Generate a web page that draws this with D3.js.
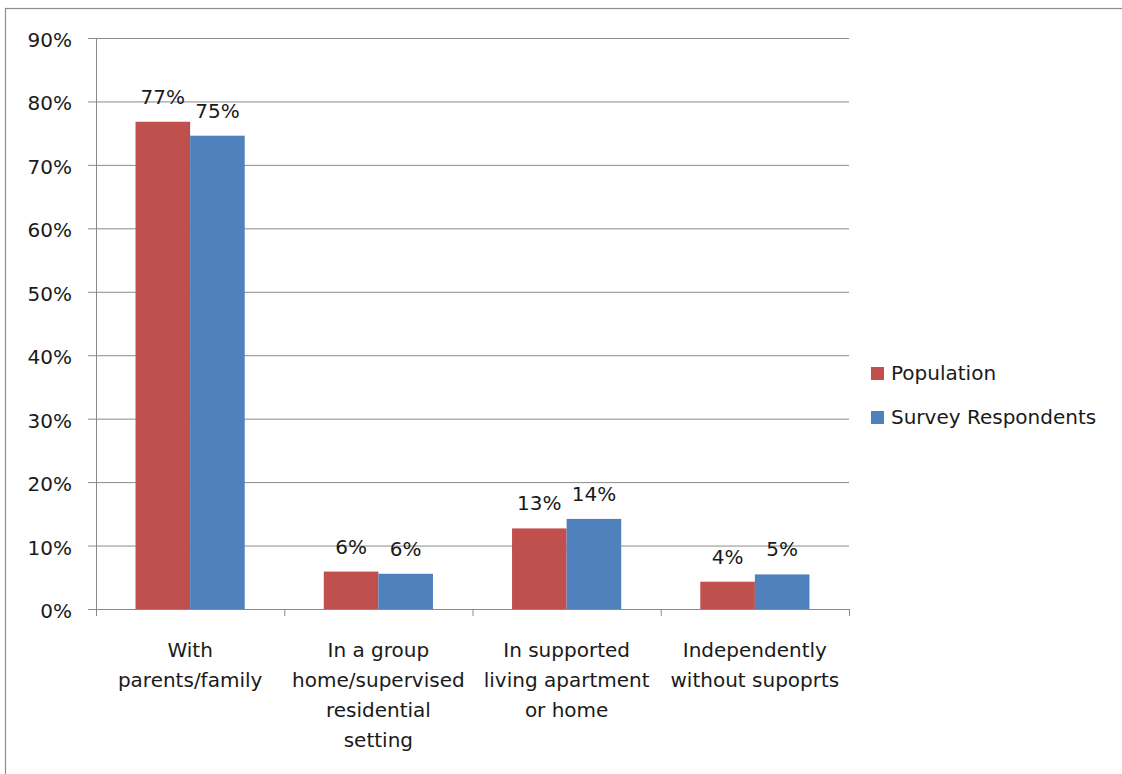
<!DOCTYPE html>
<html>
<head>
<meta charset="utf-8">
<script src="https://cdn.jsdelivr.net/npm/d3@7"></script>
<style>
  html, body { margin: 0; padding: 0; background: #fff; }
  svg { display: block; }
  svg text { font-family: "DejaVu Sans", Verdana, sans-serif; fill: #1a1a1a; }
</style>
</head>
<body>
<svg id="chart" width="1122" height="774"></svg>
<script>
// Living arrangements: population vs. survey respondents
const categories = [
  ["With", "parents/family"],
  ["In a group", "home/supervised", "residential", "setting"],
  ["In supported", "living apartment", "or home"],
  ["Independently", "without supoprts"]
];
const seriesNames = ["Population", "Survey Respondents"];
const population = [0.768, 0.059, 0.127, 0.043];
const respondents = [0.746, 0.0555, 0.142, 0.0545];
const yTicks = [0, 0.1, 0.2, 0.3, 0.4, 0.5, 0.6, 0.7, 0.8, 0.9];
const colors = ["#C0504D", "#4F81BD"];

const FONT = 20;
const svg = d3.select("#chart");

// outer frame
svg.append("rect")
  .attr("x", 5.5).attr("y", 8.5)
  .attr("width", 1130).attr("height", 780)
  .attr("fill", "#fff").attr("stroke", "#8c8c8c").attr("stroke-width", 1.2);

const plot = { left: 96, right: 849, top: 38, bottom: 609 };

const x0 = d3.scaleBand()
  .domain(d3.range(categories.length))
  .range([plot.left, plot.right])
  .paddingInner(0.42).paddingOuter(0.21);
const x1 = d3.scaleBand().domain([0, 1]).range([0, x0.bandwidth()]);
const y = d3.scaleLinear().domain([0, 0.9]).range([plot.bottom, plot.top]);
const pct = d3.format(".0%");

// gridlines + y ticks
const yAxis = d3.axisLeft(y).tickValues(yTicks)
  .tickFormat(pct)
  .tickSize(-(plot.right - plot.left))
  .tickPadding(24);
const gy = svg.append("g").attr("transform", `translate(${plot.left},0)`).call(yAxis);
gy.attr("font-family", null).attr("font-size", null);
gy.select(".domain").remove();
gy.selectAll(".tick line").attr("stroke", "#8a8a8a").attr("stroke-width", 1).attr("x1", -8);
gy.selectAll(".tick text")
  .attr("font-size", FONT).attr("dy", 8.5);

// y axis line
svg.append("line")
  .attr("x1", plot.left + 0.5).attr("x2", plot.left + 0.5)
  .attr("y1", plot.top).attr("y2", plot.bottom)
  .attr("stroke", "#8a8a8a");

// bars
const data = categories.map((c, i) => [population[i], respondents[i]]);
const groups = svg.append("g").selectAll("g").data(data).join("g")
  .attr("transform", (d, i) => `translate(${x0(i)},0)`);
groups.selectAll("rect").data(d => d).join("rect")
  .attr("x", (d, j) => x1(j))
  .attr("width", x1.bandwidth())
  .attr("y", d => y(d))
  .attr("height", d => plot.bottom - y(d))
  .attr("fill", (d, j) => colors[j]);
groups.selectAll("text").data(d => d).join("text")
  .attr("x", (d, j) => x1(j) + x1.bandwidth() / 2)
  .attr("y", d => y(d) - 18)
  .attr("text-anchor", "middle")
  .attr("font-size", FONT)
  .text(d => pct(d));

// x axis line and category separators
svg.append("line")
  .attr("x1", plot.left).attr("x2", plot.right)
  .attr("y1", plot.bottom + 0.5).attr("y2", plot.bottom + 0.5)
  .attr("stroke", "#8a8a8a");
const step = (plot.right - plot.left) / categories.length;
svg.append("g").selectAll("line").data(d3.range(categories.length + 1)).join("line")
  .attr("x1", i => plot.left + i * step + 0.5).attr("x2", i => plot.left + i * step + 0.5)
  .attr("y1", plot.bottom).attr("y2", plot.bottom + 7)
  .attr("stroke", "#8a8a8a");

// category labels
const cl = svg.append("g").selectAll("text").data(categories).join("text")
  .attr("text-anchor", "middle")
  .attr("font-size", FONT)
  .attr("transform", (d, i) => `translate(${x0(i) + x0.bandwidth() / 2},657)`);
cl.selectAll("tspan").data(d => d).join("tspan")
  .attr("x", 0).attr("dy", (d, k) => k === 0 ? 0 : 30)
  .text(d => d);

// legend
const lg = svg.append("g").selectAll("g").data(seriesNames).join("g")
  .attr("transform", (d, i) => `translate(871,${367 + i * 44})`);
lg.append("rect").attr("width", 13).attr("height", 13).attr("fill", (d, i) => colors[i]);
lg.append("text").attr("x", 20).attr("y", 13)
  .attr("font-size", FONT)
  .text(d => d);
</script>
</body>
</html>
